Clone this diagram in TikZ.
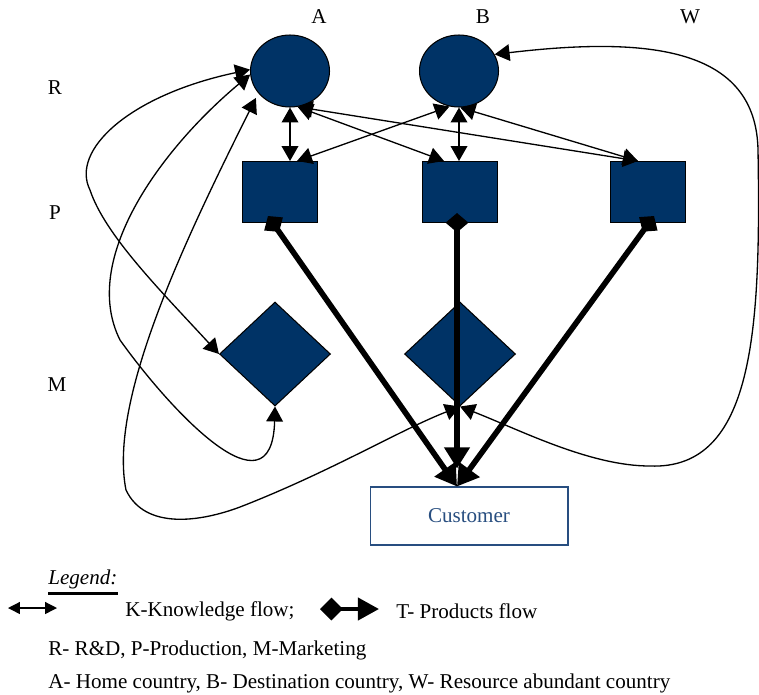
\documentclass[tikz,border=0pt]{standalone}
\usepackage{fontspec}
\setmainfont{Liberation Serif}
\usepackage{tikz}
\usetikzlibrary{arrows.meta, calc, shapes.geometric}
\definecolor{Firm-navy}{RGB}{0,51,102}
\definecolor{Firm-steel}{RGB}{40,78,128}
\tikzset{%
    rnd/.style={%
        ellipse,
        fill=Firm-navy,
        draw=black, semithick,
        minimum width=1.58cm,
        minimum height=1.44cm,
        inner sep=0pt,
    },
    plant/.style={%
        rectangle,
        fill=Firm-navy,
        draw=black, semithick,
        minimum width=1.5cm,
        minimum height=1.22cm,
        inner sep=0pt,
    },
    market/.style={%
        diamond,
        fill=Firm-navy,
        draw=black, semithick,
        minimum width=2.22cm,
        minimum height=2.08cm,
        inner sep=0pt,
    },
    client/.style={%
        rectangle,
        draw=Firm-steel, semithick,
        minimum width=3.96cm,
        minimum height=1.16cm,
        text=Firm-steel,
        font=\fontsize{12}{14}\selectfont,
    },
    tag/.style={%
        font=\fontsize{12}{14}\selectfont,
        inner sep=0pt,
    },
    legtext/.style={%
        tag,
        anchor=west,
    },
    know/.style={%
        {Triangle[length=8.5pt,width=9.5pt]}-{Triangle[length=8.5pt,width=9.5pt]},
        line width=0.75pt,
    },
    prod/.style={%
        {Diamond[length=11pt,width=13pt]}-{Triangle[length=12pt,width=14pt]},
        line width=3.2pt,
    },
}

\begin{document}
\begin{tikzpicture}[x=0.02cm, y=-0.02cm]
  \useasboundingbox (0,0) rectangle (759,694);

  % countries and activities
  \node[tag] (lbl_a) at (319,17) {A};
  \node[tag] (lbl_b) at (483,17) {B};
  \node[tag] (lbl_w) at (690,17) {W};
  \node[tag] (lbl_r) at (55,88) {R};
  \node[tag] (lbl_p) at (55,213) {P};
  \node[tag] (lbl_m) at (57,385) {M};

  \node[rnd] (rnd_a) at (290,71) {};
  \node[rnd] (rnd_b) at (459,71) {};

  \node[plant] (plant_a) at (280,192) {};
  \node[plant] (plant_b) at (460,192) {};
  \node[plant] (plant_w) at (648,192) {};

  \node[market] (mkt_a) at (275,354) {};
  \node[market] (mkt_b) at (460,354) {};

  \node[client] (customer) at (469,516) {Customer};
  \coordinate (sink) at ($(customer.north)+(-12,0)$);

  % knowledge flows
  \draw[know] (rnd_a.south) -- (rnd_a.south |- plant_a.north);
  \draw[know] (rnd_b.south) -- (rnd_b.south |- plant_b.north);
  \draw[know] (rnd_a.-78) -- ($(plant_b.north)+(-16,0)$);
  \draw[know] (rnd_a.-78) -- ($(plant_w.north)+(-10,0)$);
  \draw[know] (rnd_b.-105) -- ($(plant_a.north)+(17,0)$);
  \draw[know] (rnd_b.-88) -- ($(plant_w.north)+(-10,0)$);

  \draw[know] (rnd_a.178) .. controls (130,95) and (70,150) .. (90,190)
    .. controls (105,235) and (160,290) .. (mkt_a.west);
  \draw[know] (rnd_a.185) .. controls (160,150) and (80,260) .. (120,340)
    .. controls (170,410) and (272,520) .. (mkt_a.south);
  \draw[know, shorten <=3pt] (rnd_a.215) .. controls (185,240) and (108,400) .. (126,490)
    .. controls (145,530) and (200,522) .. (240,507)
    .. controls (330,472) and (400,430) .. (mkt_b.south);
  \draw[know] (rnd_b.25) .. controls (650,36) and (756,48) .. (758,150)
    .. controls (761,330) and (754,470) .. (650,466)
    .. controls (590,466) and (520,430) .. (mkt_b.south);

  % products flows
  \draw[prod] ($(plant_a.south)+(-12,-7)$) -- (sink);
  \draw[prod] ($(plant_b.south)+(-3,-10)$) -- ($(sink)+(0,-18)$);
  \draw[prod] ($(plant_w.south)+(6,-7)$) -- (sink);

  % legend
  \node[legtext, font=\fontsize{12}{14}\selectfont\itshape] (leg_title) at (48,579) {Legend:};
  \draw[line width=1.7pt] ($(leg_title.south west)+(0,5)$) -- ($(leg_title.south east)+(0,5)$);

  \coordinate (kl_l) at (8,608);
  \coordinate (kl_r) at (57,608);
  \draw[know, {Triangle[length=6.8pt,width=6.8pt]}-{Triangle[length=6.8pt,width=6.8pt]}] (kl_l) -- (kl_r);
  \node[legtext] (leg_know) at (125,611) {K-Knowledge flow;};

  \coordinate (pl_l) at (320,609);
  \coordinate (pl_r) at (379,609);
  \draw[prod, line width=2.4pt, {Diamond[length=13pt,width=13pt]}-{Triangle[length=12pt,width=12.5pt]}] (pl_l) -- (pl_r);
  \node[legtext] (leg_prod) at (396,611) {T- Products flow};

  \node[legtext] (leg_roles) at (48,650) {R- R\&D, P-Production, M-Marketing};
  \node[legtext] (leg_land) at (48,683) {A- Home country, B- Destination country, W- Resource abundant country};
\end{tikzpicture}
\end{document}
